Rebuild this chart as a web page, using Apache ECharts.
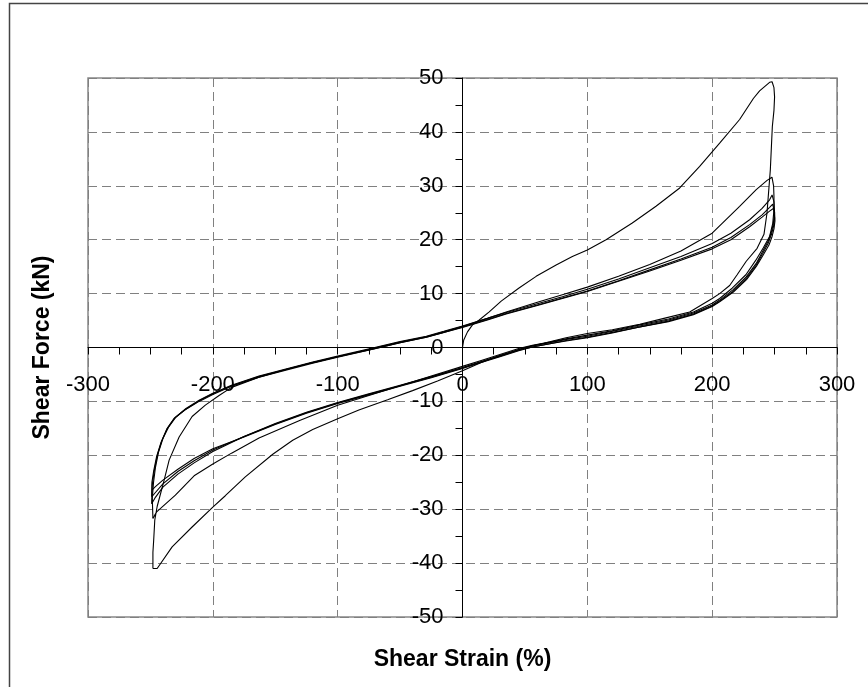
<!DOCTYPE html>
<html>
<head>
<meta charset="utf-8">
<title>Shear Force vs Shear Strain</title>
<script src="https://cdn.jsdelivr.net/npm/echarts@6/dist/echarts.min.js"></script>
<style>
  html, body { margin: 0; padding: 0; background: #fff; }
  #main { width: 868px; height: 687px; }
</style>
</head>
<body>
<div id="main"></div>
<script>
// axis ranges / ticks
var xMin = -300, xMax = 300, xStep = 100;
var yMin = -50, yMax = 50, yStep = 10;

// cycle 1 (virgin): origin -> +peak -> -peak
var cycle1 = [
    [0, 0], [1, 1.4], [4, 2.9], [8, 4.2], [13.4, 5.1], [21.4, 6.6], [31, 8.6], [45, 11], [59, 13.2],
    [75, 15.3], [88, 16.9], [100, 18.1], [115, 20], [136, 23.1], [155, 26.2], [174, 29.6],
    [190, 33.6], [206, 37.9], [222, 42.3], [233, 46.2], [238, 47.6], [242, 48.4], [246, 49.2],
    [248, 49.3], [249.5, 48.2], [250, 46.5], [249.5, 44], [248.2, 41], [246.6, 33], [243.9, 24.9],
    [241.5, 21], [236, 18.4], [227.3, 16], [220, 13.5], [214, 11.5], [206, 10], [200, 9.1],
    [182, 6.6], [163, 5.5], [142, 4.3], [120, 3.3], [100, 2.6], [83, 1.8], [65, 0.8], [50, 0],
    [30, -1.5], [15, -2.8], [0, -4.3], [-20, -6.2], [-40, -8], [-60, -9.7], [-83, -11.6],
    [-100, -13.2], [-120, -15.2], [-136, -17.2], [-152, -19.8], [-174, -24], [-190, -27.5],
    [-200, -29.6], [-216.6, -33.3], [-232.6, -37], [-244.6, -41], [-248, -41]
];

// cycle 2: reload from -41 to +31.6, unload to -31.7
var cycle2 = [
    [-248, -41], [-248, -38], [-247.4, -35.8], [-246.5, -32], [-244.6, -29.5], [-239, -24.6],
    [-235, -20.9], [-227, -16.6], [-216.6, -12.8], [-206, -10.7], [-195, -8.9], [-185, -7.4],
    [-163, -5.5], [-140, -4.0], [-120, -2.8], [-100, -1.7], [-72, -0.2], [-50, 1], [-29, 2],
    [-15, 2.9], [0, 3.9], [20, 5.4], [35, 6.6], [60, 8.4], [80, 9.8], [100, 11.2], [125, 13.2],
    [150, 15.4], [175, 17.9], [200, 21.2], [222, 26.2], [235.3, 29.3], [244, 31], [247.9, 31.6],
    [249.2, 30], [249.5, 28], [249.5, 25.5], [248.5, 23], [246, 20.6], [241, 18.5], [235, 16.2],
    [227, 13.5], [216, 11], [206, 9.1], [200, 8.2], [185, 6.6], [165, 5.3], [140, 4.1], [120, 3.1],
    [100, 2.3], [83, 1.6], [70, 1], [56, 0.4], [45, -0.2], [30, -1.3], [15, -2.4], [0, -3.5],
    [-25, -5.3], [-50, -7.1], [-75, -8.9], [-100, -10.7], [-130, -13.5], [-163, -16.8],
    [-185, -19.6], [-200, -21.6], [-215, -23.8], [-230, -27.4], [-245, -30.5], [-248, -31.7]
];

// cycle 3: reload to +28.3, unload to -29
var cycle3 = [
    [-248, -31.7], [-248.5, -28], [-247.5, -25], [-246, -22.3], [-243.5, -19.4], [-240, -16.9],
    [-235.5, -14.8], [-229.5, -12.9], [-221.5, -11.3], [-211, -9.8], [-200, -8.5], [-185, -7],
    [-163, -5.3], [-140, -3.9], [-120, -2.7], [-100, -1.6], [-72, -0.1], [-50, 1.1], [-29, 2.1],
    [-15, 3], [0, 4], [20, 5.4], [35, 6.5], [60, 8.1], [80, 9.4], [100, 10.8], [125, 12.7],
    [150, 14.8], [175, 16.9], [200, 19.3], [215, 21.2], [230, 23.7], [240, 25.8], [246, 27.4],
    [248, 28.3], [249.5, 27], [250, 25], [249, 23], [247.5, 21.5], [245, 19.8], [240.6, 17.9],
    [235.3, 15.6], [227.3, 13.1], [216.6, 10.7], [206, 8.8], [200, 7.9], [185, 6.4], [165, 5.1],
    [140, 3.9], [120, 3], [100, 2.1], [83, 1.5], [70, 0.9], [56, 0.3], [45, -0.4], [30, -1.5],
    [15, -2.6], [0, -3.7], [-25, -5.4], [-50, -7], [-75, -8.6], [-100, -10.2], [-125, -12],
    [-150, -14.1], [-175, -16.5], [-200, -19.3], [-215, -21.4], [-228, -23.5], [-240, -25.9],
    [-246, -27.8], [-249, -29]
];

// cycle 4: reload to +26.6, unload to -27.7
var cycle4 = [
    [-249, -29], [-248.5, -25.5], [-247, -23], [-244.5, -20], [-241, -17.4], [-236.5, -15],
    [-230.5, -13], [-222, -11.5], [-211, -9.9], [-200, -8.6], [-185, -7.1], [-163, -5.4],
    [-140, -4], [-120, -2.8], [-100, -1.7], [-72, -0.3], [-50, 0.9], [-29, 1.9], [-15, 2.8],
    [0, 3.8], [20, 5.2], [35, 6.3], [60, 7.9], [80, 9.2], [100, 10.5], [125, 12.4], [150, 14.4],
    [175, 16.4], [200, 18.6], [215, 20.4], [230, 22.8], [240, 24.6], [246, 26], [248.5, 26.6],
    [249.5, 25.5], [250, 24], [249.2, 22.5], [247.5, 21], [245, 19.4], [240.6, 17.5], [235.3, 15.3],
    [227.3, 12.8], [216.6, 10.4], [206, 8.6], [200, 7.7], [185, 6.2], [165, 4.9], [140, 3.7],
    [120, 2.8], [100, 1.9], [83, 1.3], [70, 0.7], [56, 0.1], [45, -0.5], [30, -1.6], [15, -2.7],
    [0, -3.8], [-25, -5.5], [-50, -7.1], [-75, -8.7], [-100, -10.3], [-125, -12.1], [-150, -14.2],
    [-175, -16.5], [-200, -19], [-215, -21], [-228, -23], [-240, -25.3], [-246, -26.9],
    [-249, -27.7]
];

// cycle 5: reload to +25.8, unload to -26.5
var cycle5 = [
    [-249, -27.7], [-248.8, -25], [-247.3, -22.8], [-245, -20.2], [-241.5, -17.6], [-237, -15.2],
    [-231, -13.2], [-222.5, -11.6], [-211, -10], [-200, -8.7], [-185, -7.2], [-163, -5.5],
    [-140, -4.1], [-120, -2.9], [-100, -1.8], [-72, -0.3], [-50, 0.9], [-29, 1.9], [-15, 2.8],
    [0, 3.7], [20, 5.1], [35, 6.2], [60, 7.8], [80, 9.1], [100, 10.4], [125, 12.3], [150, 14.2],
    [175, 16.2], [200, 18.3], [215, 20], [230, 22.4], [240, 24.2], [246, 25.3], [249, 25.8],
    [250, 25], [250.3, 23.5], [249.5, 22], [248, 20.6], [245.5, 19], [241, 17.2], [235.5, 15.1],
    [227.5, 12.6], [217, 10.3], [206, 8.5], [200, 7.6], [185, 6.1], [165, 4.8], [140, 3.7],
    [120, 2.7], [100, 1.8], [83, 1.2], [70, 0.7], [56, 0.1], [45, -0.6], [30, -1.7], [15, -2.8],
    [0, -3.9], [-25, -5.6], [-50, -7.2], [-75, -8.8], [-100, -10.4], [-125, -12.2], [-150, -14.3],
    [-175, -16.6], [-200, -18.8], [-215, -20.6], [-228, -22.6], [-240, -24.6], [-246, -25.8],
    [-249, -26.5]
];

var cycles = [cycle1, cycle2, cycle3, cycle4, cycle5];

var font = '"Liberation Sans", Arial, sans-serif';
var gridDash = { color: '#808080', type: [9, 5], width: 1 };

// plot box in pixels; axes are shifted onto the zero lines
var plotLeft = 88, plotRight = 31, plotTop = 78, plotBottom = 70;
var chartW = 868, chartH = 687;
var zeroX = plotLeft + (0 - xMin) / (xMax - xMin) * (chartW - plotLeft - plotRight);
var zeroY = plotTop + (yMax - 0) / (yMax - yMin) * (chartH - plotTop - plotBottom);

var chart = echarts.init(document.getElementById('main'), null, { renderer: 'canvas' });

var option = {
    animation: false,
    backgroundColor: '#fff',
    textStyle: { fontFamily: font },
    grid: {
        left: plotLeft, right: plotRight, top: plotTop, bottom: plotBottom,
        outerBoundsMode: 'none',
        show: true, borderColor: '#888', borderWidth: 1.5, backgroundColor: 'transparent'
    },
    // outer chart border (only left/top visible in the crop)
    graphic: [{
        type: 'rect',
        shape: { x: 9.5, y: 3.5, width: 900, height: 720 },
        style: { fill: 'none', stroke: '#444', lineWidth: 1.5 },
        silent: true
    }],
    xAxis: {
        type: 'value', min: xMin, max: xMax, interval: xStep,
        offset: -((chartH - plotBottom) - zeroY),
        name: 'Shear Strain (%)', nameLocation: 'middle', nameGap: 301,
        nameTextStyle: { fontFamily: font, fontSize: 23, fontWeight: 'bold', color: '#000' },
        axisLine: { onZero: false, lineStyle: { color: '#000', width: 1 } },
        axisTick: { show: true, inside: false, length: 7, lineStyle: { color: '#000' } },
        minorTick: { show: true, splitNumber: 4, length: 7, lineStyle: { color: '#000' } },
        axisLabel: { fontFamily: font, fontSize: 22, color: '#000', margin: 26 },
        splitLine: { show: true, lineStyle: gridDash }
    },
    yAxis: {
        type: 'value', min: yMin, max: yMax, interval: yStep,
        offset: -(zeroX - plotLeft),
        name: 'Shear Force (kN)', nameLocation: 'middle', nameGap: 408,
        nameTextStyle: { fontFamily: font, fontSize: 23, fontWeight: 'bold', color: '#000' },
        axisLine: { onZero: false, lineStyle: { color: '#000', width: 1 } },
        axisTick: { show: true, inside: false, length: 7, lineStyle: { color: '#000' } },
        minorTick: { show: true, splitNumber: 2, length: 7, lineStyle: { color: '#000' } },
        axisLabel: { fontFamily: font, fontSize: 22, color: '#000', margin: 19 },
        splitLine: { show: true, lineStyle: gridDash }
    },
    series: cycles.map(function (c, i) {
        return {
            name: 'cycle ' + (i + 1),
            type: 'line',
            data: c,
            showSymbol: false,
            smooth: false,
            clip: false,
            lineStyle: { color: '#000', width: 1.1 },
            z: 5
        };
    })
};

chart.setOption(option);
</script>
</body>
</html>
